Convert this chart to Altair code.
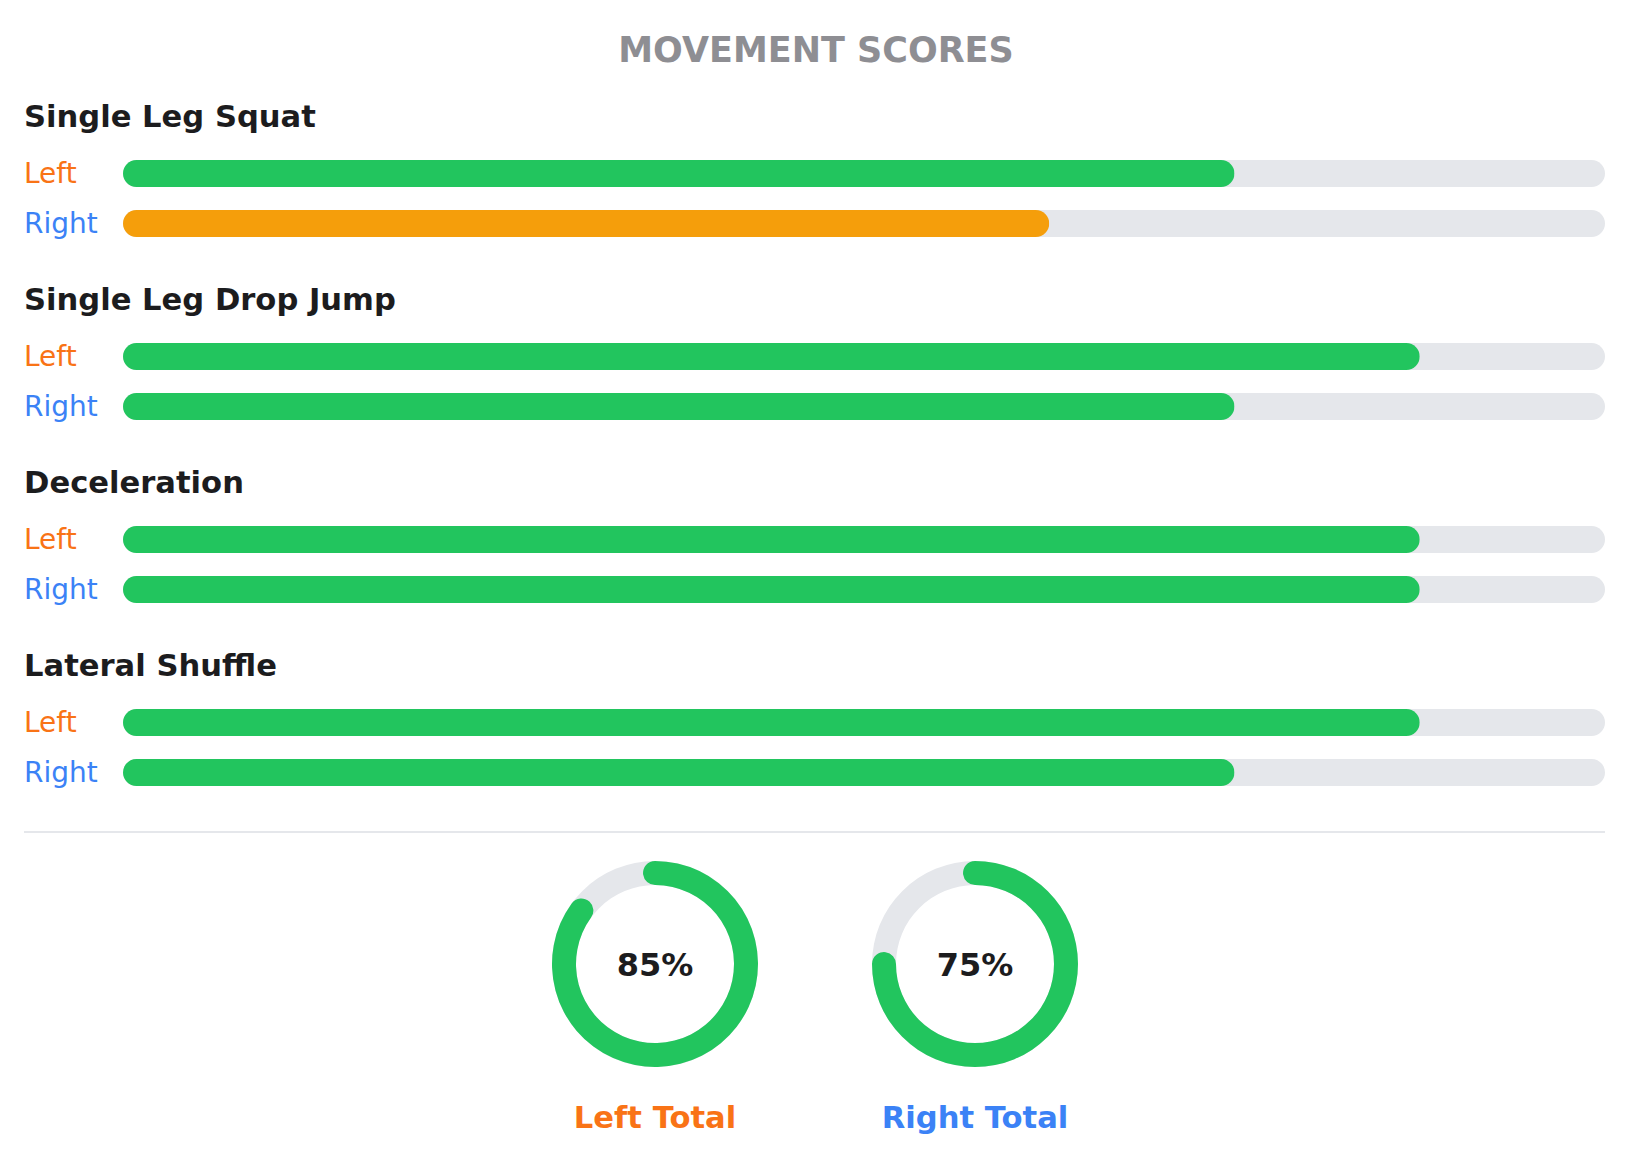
import math
import altair as alt
import pandas as pd

# ---------------- data ----------------
title_text = "MOVEMENT SCORES"
sections = ["Single Leg Squat", "Single Leg Drop Jump", "Deceleration", "Lateral Shuffle"]
sides = ["Left", "Right"]
left_scores = [75, 87.5, 87.5, 87.5]
right_scores = [62.5, 75, 87.5, 75]
totals = [85, 75]
total_labels = ["Left Total", "Right Total"]

# ---------------- style ----------------
GREEN = "#22c55e"
AMBER = "#f59e0b"
TRACK = "#e5e7eb"
ORANGE = "#f97316"
BLUE = "#3b82f6"
DARK = "#1c1c1e"
GRAY = "#8e8e93"
FONT = "DejaVu Sans"

W, H = 1616, 1148
X0, X1 = 115, 1597
HEAD0, SEC_STEP = 119, 183
BAR_H = 27
BAR_OFFS = {"Left": 46.5, "Right": 96.5}
LABEL_OFFS = {"Left": 56, "Right": 106}
DONUT_X = [647, 967]
DONUT_Y = 956
R_OUT, R_IN = 103, 79
CAP = (R_OUT - R_IN) / 2
CAP_PCT = CAP / ((R_OUT + R_IN) / 2) / (2 * math.pi) * 100

# ---------------- tables ----------------
sec_df = pd.DataFrame({"section": sections, "sec": list(range(len(sections)))})
rows = []
for i, s in enumerate(sections):
    rows.append({"section": s, "sec": i, "side": "Left", "score": left_scores[i]})
    rows.append({"section": s, "sec": i, "side": "Right", "score": right_scores[i]})
rows_df = pd.DataFrame(rows)
tot_df = pd.DataFrame({"side": sides, "total": totals, "label": total_labels})
title_df = pd.DataFrame({"t": [title_text]})

xscale = alt.Scale(domain=[0, 100], range=[X0, X1], zero=True, nice=False, padding=0)
yscale = alt.Scale(domain=[0, len(sections) - 1],
                   range=[HEAD0, HEAD0 + SEC_STEP * (len(sections) - 1)],
                   zero=False, nice=False, padding=0)
side_color = alt.Color("side:N", scale=alt.Scale(domain=sides, range=[ORANGE, BLUE]), legend=None)
score_color = alt.condition("datum.score >= 70", alt.value(GREEN), alt.value(AMBER))
pscale = alt.Scale(type="point", domain=sides, range=DONUT_X, padding=0)
tscale = alt.Scale(domain=[0, 100], range=[0, 2 * math.pi], zero=False, nice=False)

layers = []

# title
layers.append(
    alt.Chart(title_df).mark_text(font=FONT, fontSize=35, fontWeight="bold", color=GRAY,
                                  align="center", baseline="alphabetic")
    .encode(text="t:N", x=alt.value(W / 2), y=alt.value(54))
)

# section headings
layers.append(
    alt.Chart(sec_df).mark_text(font=FONT, fontSize=30.6, fontWeight="bold", color=DARK,
                                align="left", baseline="alphabetic")
    .encode(text="section:N", x=alt.value(16), y=alt.Y("sec:Q", scale=yscale, axis=None))
)

for side in sides:
    sub = rows_df[rows_df.side == side]
    # side labels
    layers.append(
        alt.Chart(sub).mark_text(font=FONT, fontSize=28, align="left", baseline="alphabetic",
                                 dy=LABEL_OFFS[side])
        .encode(text="side:N", x=alt.value(16), y=alt.Y("sec:Q", scale=yscale, axis=None),
                color=side_color)
    )
    # track
    layers.append(
        alt.Chart(sub).transform_calculate(full="100")
        .mark_bar(orient="horizontal", height=BAR_H, cornerRadius=BAR_H / 2,
                  yOffset=BAR_OFFS[side], color=TRACK)
        .encode(x=alt.X("full:Q", scale=xscale, axis=None),
                y=alt.Y("sec:Q", scale=yscale, axis=None))
    )
    # score bar
    layers.append(
        alt.Chart(sub)
        .mark_bar(orient="horizontal", height=BAR_H, cornerRadius=BAR_H / 2,
                  yOffset=BAR_OFFS[side])
        .encode(x=alt.X("score:Q", scale=xscale, axis=None),
                y=alt.Y("sec:Q", scale=yscale, axis=None),
                color=score_color)
    )

# divider
layers.append(
    alt.Chart(title_df).mark_rule(color=TRACK, strokeWidth=2)
    .encode(x=alt.value(16), x2=alt.value(X1), y=alt.value(824))
)

# donut tracks
layers.append(
    alt.Chart(tot_df).transform_calculate(start="0", end="100")
    .mark_arc(radius=R_OUT, radius2=R_IN, color=TRACK)
    .encode(x=alt.X("side:N", scale=pscale, axis=None), y=alt.value(DONUT_Y),
            theta=alt.Theta("start:Q", scale=tscale, stack=None), theta2="end:Q")
)
# donut values (round caps)
layers.append(
    alt.Chart(tot_df).transform_calculate(start=f"-{CAP_PCT}", end=f"datum.total + {CAP_PCT}",
                                          score="datum.total")
    .mark_arc(radius=R_OUT, radius2=R_IN, cornerRadius=CAP)
    .encode(x=alt.X("side:N", scale=pscale, axis=None), y=alt.value(DONUT_Y),
            theta=alt.Theta("start:Q", scale=tscale, stack=None), theta2="end:Q",
            color=score_color)
)
# percentage text
layers.append(
    alt.Chart(tot_df).transform_calculate(pct="format(datum.total, 'd') + '%'")
    .mark_text(font=FONT, fontSize=32, fontWeight="bold", color=DARK,
               align="center", baseline="alphabetic")
    .encode(text="pct:N", x=alt.X("side:N", scale=pscale, axis=None), y=alt.value(968))
)
# total labels
layers.append(
    alt.Chart(tot_df)
    .mark_text(font=FONT, fontSize=30.6, fontWeight="bold", align="center", baseline="alphabetic")
    .encode(text="label:N", x=alt.X("side:N", scale=pscale, axis=None), y=alt.value(1120),
            color=side_color)
)

chart = (
    alt.layer(*layers)
    .resolve_scale(x="independent")
    .properties(width=W, height=H, padding=0, autosize=alt.AutoSizeParams(type="none"),
                background="white")
    .configure_view(strokeWidth=0)
)

chart.save("out.html", embed_options={"renderer": "svg", "actions": False})
